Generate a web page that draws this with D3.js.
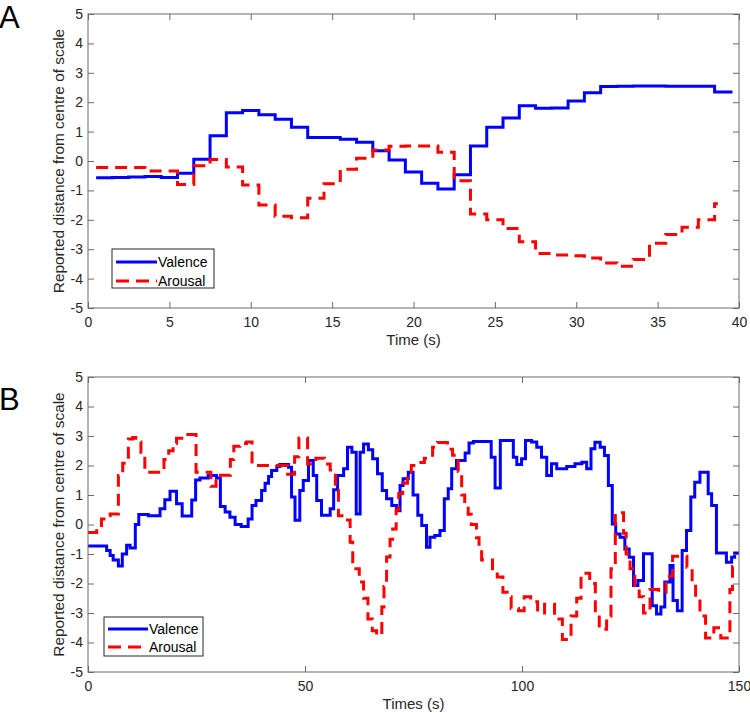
<!DOCTYPE html>
<html><head><meta charset="utf-8">
<script src="https://cdn.jsdelivr.net/npm/d3@7"></script>
<style>
body{margin:0;background:#fff}
text{font-family:"Liberation Sans",Arial,Helvetica,sans-serif;fill:#262626}
</style>
</head><body>
<svg id="chart" width="750" height="713"></svg>
<script>
// ---------- Panel A data ----------
const stepTimesA = [0.5,1.5,2.5,3.5,4.5,5.5,6.5,7.5,8.5,9.5,10.5,11.5,12.5,13.5,14.5,15.5,16.5,17.5,18.5,19.5,
  20.5,21.5,22.5,23.5,24.5,25.5,26.5,27.5,28.5,29.5,30.5,31.5,32.5,33.5,34.5,35.5,36.5,37.5,38.5];
const valenceEndA = 39.6;
const arousalEndA = 38.7;
const valenceA = [-0.57,-0.56,-0.54,-0.53,-0.56,-0.42,0.06,0.86,1.64,1.72,1.57,1.42,1.15,0.80,0.80,0.74,0.64,0.35,0.03,-0.37,
  -0.76,-0.95,-0.47,0.51,1.15,1.46,1.88,1.79,1.80,2.04,2.32,2.53,2.54,2.55,2.55,2.54,2.54,2.54,2.35];
const arousalA = [-0.22,-0.22,-0.22,-0.34,-0.34,-0.80,-0.16,0.05,-0.20,-0.82,-1.50,-1.88,-1.93,-1.27,-0.77,-0.28,0.09,0.37,0.50,0.51,
  0.51,0.30,-0.67,-1.80,-2.00,-2.30,-2.75,-3.15,-3.20,-3.22,-3.30,-3.47,-3.58,-3.35,-2.80,-2.50,-2.25,-2.00,-1.45];
const xTicksA = [0,5,10,15,20,25,30,35,40];

// ---------- Panel B data ----------
const valenceTimesB = [0,4.3,5.1,5.8,7.0,7.9,8.9,9.7,10.9,11.7,13.9,16.6,17.7,18.9,20.4,21.7,23.9,24.8,25.8,27.7,29.6,30.5,31.6,32.7,33.9,
  35.3,36.9,37.8,38.7,40.0,40.8,41.6,42.3,43.5,44.2,46.2,46.9,47.7,48.8,49.6,50.8,51.9,52.7,53.8,55.8,56.6,57.5,58.9,59.8,60.8,
  61.8,62.7,63.5,64.6,65.6,66.7,67.8,68.8,70.0,71.1,71.9,72.6,73.8,74.9,76.0,76.9,78.0,78.8,79.9,81.1,82.1,83.0,83.8,84.9,86.9,
  87.8,88.8,92.9,93.8,95.0,98.0,98.8,99.9,100.8,102.2,103.4,104.5,105.7,106.8,108.0,110.3,112.2,113.8,114.9,115.9,116.8,118.0,119.0,119.9,120.8,
  121.6,122.6,123.7,124.7,125.7,126.7,128.0,130.0,131.0,132.0,132.9,134.1,134.8,135.8,136.9,137.9,138.9,139.8,141.0,142.9,143.7,144.8,147.1,148.3,149.0,150];
const valenceB = [-0.73,-0.88,-1.05,-1.20,-1.41,-1.00,-0.70,-0.80,0.00,0.34,0.30,0.53,0.84,1.13,0.70,0.29,0.83,1.51,1.58,1.66,1.58,0.61,0.42,0.25,0.00,
  -0.07,0.19,0.64,0.81,1.15,1.40,1.63,1.83,1.97,2.03,1.94,0.93,0.14,1.15,1.49,2.17,1.66,0.81,0.31,0.53,1.18,1.66,1.89,2.62,2.45,
  0.36,2.45,2.73,2.53,2.23,1.72,1.15,0.87,0.64,0.47,1.32,1.55,1.77,1.00,0.31,-0.03,-0.77,-0.43,-0.37,-0.20,0.87,1.21,1.89,2.17,2.42,
  2.76,2.81,2.28,1.24,2.85,2.28,2.03,2.23,2.85,2.80,2.62,2.28,1.66,2.06,1.89,1.97,2.06,2.11,1.89,2.57,2.79,2.62,2.34,1.32,0.02,
  -0.32,-0.43,-0.83,-1.11,-2.07,-1.90,-0.99,-2.75,-3.03,-2.80,-1.95,-1.39,-2.58,-2.92,-0.88,-0.20,0.93,1.43,1.77,1.04,0.64,-0.97,-1.28,-1.11,-0.97,-0.97];
const arousalTimesB = [0,2.0,3.1,4.1,5.1,7.0,8.0,9.3,10.3,11.0,12.2,13.1,17.5,18.6,19.6,20.4,22.0,23.0,24.9,28.3,29.5,32.8,33.6,35.0,36.5,
  37.8,41.5,46.0,47.6,48.6,50.6,52.5,54.5,55.8,57.0,57.7,59.3,60.4,61.0,62.5,63.5,64.5,65.5,66.5,67.7,68.2,68.8,69.6,70.2,71.0,
  71.6,72.5,73.6,74.5,76.2,77.5,79.4,80.5,82.8,84.0,85.3,86.1,86.8,87.6,88.3,89.5,90.1,90.7,93.2,94.3,95.6,96.6,97.5,99.2,100.5,
  102.0,103.6,105.2,107.5,109.3,111.3,112.6,113.6,115.6,116.9,117.8,119.5,120.5,121.5,123.4,124.0,124.9,126.0,127.0,128.0,129.5,131.5,133.2,134.7,138.0,
  139.2,140.0,141.0,142.3,144.2,145.8,147.9,148.5,150];
const arousalB = [-0.27,-0.21,0.19,0.30,0.36,1.66,2.08,2.90,2.95,2.80,2.45,1.77,2.20,2.50,2.75,2.92,3.00,3.05,1.77,1.30,1.67,2.20,2.65,2.75,2.80,
  2.00,2.00,1.70,2.30,2.93,2.05,2.25,2.05,1.85,1.15,0.30,0.15,-0.60,-1.50,-1.95,-2.50,-3.20,-3.60,-3.75,-2.80,-2.10,-1.10,-0.50,-0.15,0.50,
  1.05,1.40,1.65,2.00,2.10,2.25,2.62,2.78,2.55,2.35,1.80,1.00,0.65,0.35,0.00,-0.45,-0.85,-1.20,-1.60,-1.78,-2.30,-2.45,-2.85,-2.92,-2.45,
  -2.62,-3.00,-2.70,-3.20,-3.90,-3.10,-2.50,-1.65,-2.00,-3.00,-3.55,-3.10,-1.50,0.40,-0.30,-1.00,-1.50,-2.20,-2.45,-3.00,-2.20,-2.30,-1.75,-1.08,-1.45,
  -2.00,-2.50,-3.10,-3.85,-3.50,-3.85,-2.20,-1.42,-1.42];
const xTicksB = [0,50,100,150];

const yTicks = [-5,-4,-3,-2,-1,0,1,2,3,4,5];
const seriesNames = ["Valence","Arousal"];
const yLabel = "Reported distance from centre of scale";

const svg = d3.select("#chart");
svg.append("rect").attr("width",750).attr("height",713).attr("fill","#fff");

const AXL = "#6a6a6a";   // axis lines
const AXT = "#262626";   // axis text
const BLUE = "#0000ff", RED = "#ff0000";
const fmt = d => String(d);  // plain hyphen minus like MATLAB

function stepPts(times, values, endT) {
  const pts = times.map((t,i)=>[t, values[i]]);
  if (endT !== undefined) pts.push([endT, values[values.length-1]]);
  return pts;
}

function drawPanel(o) {
  const g = svg.append("g");
  const x = d3.scaleLinear().domain(o.xDomain).range([o.left, o.right]);
  const y = d3.scaleLinear().domain([-5,5]).range([o.bottom, o.top]);

  const line = d3.line().x(d=>x(d[0])).y(d=>y(d[1])).curve(d3.curveStepAfter);
  g.append("path").datum(o.valence).attr("d",line)
    .attr("fill","none").attr("stroke",BLUE).attr("stroke-width",3);
  g.append("path").datum(o.arousal).attr("d",line)
    .attr("fill","none").attr("stroke",RED).attr("stroke-width",3).attr("stroke-dasharray","12,7");

  g.append("rect").attr("x",o.left).attr("y",o.top).attr("width",o.right-o.left).attr("height",o.bottom-o.top)
    .attr("fill","none").attr("stroke",AXL).attr("stroke-width",1);

  const T = 6;
  const ax = (gen, tr) => {
    const a = g.append("g").attr("transform",tr).call(gen);
    a.select(".domain").remove();
    a.selectAll(".tick line").attr("stroke",AXL);
    a.selectAll("text").attr("font-size",14).attr("fill",AXT);
    return a;
  };
  ax(d3.axisLeft(y).tickValues(yTicks).tickFormat(fmt).tickSize(-T).tickPadding(5), `translate(${o.left},0)`);
  ax(d3.axisRight(y).tickValues(yTicks).tickSize(-T).tickFormat(""), `translate(${o.right},0)`);
  ax(d3.axisBottom(x).tickValues(o.xTicks).tickFormat(fmt).tickSize(-T).tickPadding(9), `translate(0,${o.bottom})`);
  ax(d3.axisTop(x).tickValues(o.xTicks).tickSize(-T).tickFormat(""), `translate(0,${o.top})`);

  g.append("text").attr("x",(o.left+o.right)/2).attr("y",o.bottom+36.5)
    .attr("text-anchor","middle").attr("font-size",15).text(o.xLabel);
  g.append("text").attr("transform",`translate(64,${(o.top+o.bottom)/2}) rotate(-90)`)
    .attr("text-anchor","middle").attr("font-size",15.4).text(yLabel);
  g.append("text").attr("x",-1).attr("y",o.letterY).attr("font-size",31).style("fill","#000").text(o.letter);

  const L = o.legend;
  const lg = g.append("g");
  lg.append("rect").attr("x",L.x).attr("y",L.y).attr("width",L.w).attr("height",L.h)
    .attr("fill","#fff").attr("stroke",AXT).attr("stroke-width",1);
  seriesNames.forEach((n,i)=>{
    const yy = L.y + L.row0 + i*L.dy;
    lg.append("line").attr("x1",L.x+4).attr("x2",L.x+4+L.lineW).attr("y1",yy).attr("y2",yy)
      .attr("stroke", i===0?BLUE:RED).attr("stroke-width",3)
      .attr("stroke-dasharray", i===0?null:"13,7");
    lg.append("text").attr("x",L.x+5+L.lineW).attr("y",yy+5).attr("font-size",14).style("fill","#000").text(n);
  });
}

drawPanel({
  left:88, right:739, top:14, bottom:308, xDomain:[0,40], xTicks:xTicksA, xLabel:"Time (s)",
  valence: stepPts(stepTimesA, valenceA, valenceEndA),
  arousal: stepPts(stepTimesA, arousalA, arousalEndA),
  letter:"A", letterY:28,
  legend:{x:112,y:249,w:102,h:39,row0:13,dy:19,lineW:41}
});
drawPanel({
  left:88, right:739, top:377, bottom:672, xDomain:[0,150], xTicks:xTicksB, xLabel:"Times (s)",
  valence: stepPts(valenceTimesB, valenceB),
  arousal: stepPts(arousalTimesB, arousalB),
  letter:"B", letterY:410,
  legend:{x:104,y:617,w:99,h:39,row0:12,dy:18,lineW:40}
});
</script>
</body></html>
